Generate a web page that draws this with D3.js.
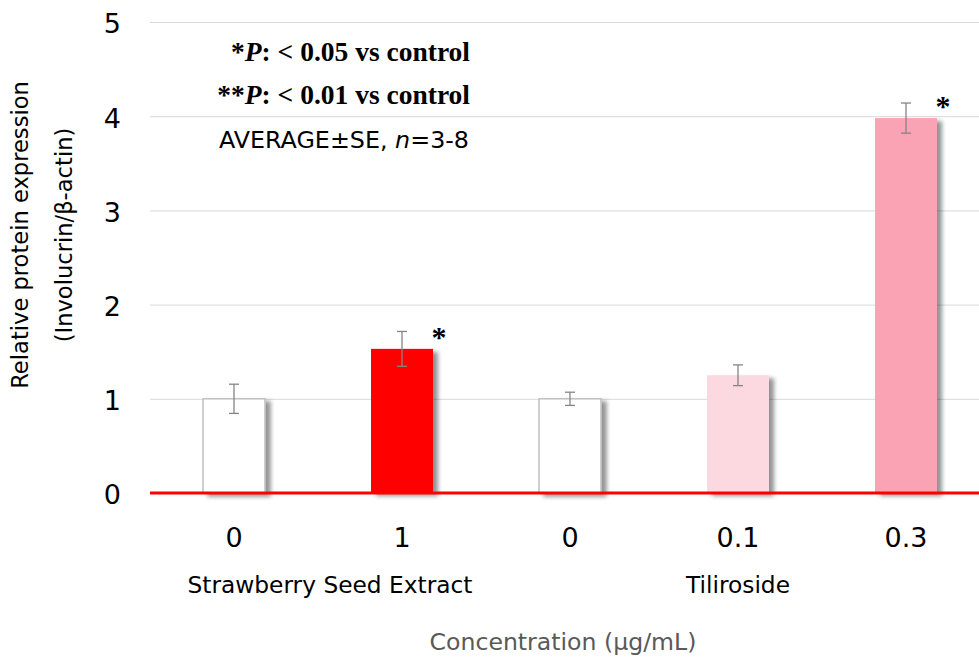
<!DOCTYPE html>
<html>
<head>
<meta charset="utf-8">
<script src="https://cdn.jsdelivr.net/npm/d3@7"></script>
<style>
  html, body { margin: 0; padding: 0; background: #fff; }
  svg { display: block; }
</style>
</head>
<body>
<svg id="chart" width="979" height="660"></svg>
<script>
// Involucrin / β-actin relative expression by treatment and concentration
const concentrations = ["0", "1", "0", "0.1", "0.3"];
const means = [1.00, 1.53, 1.00, 1.25, 3.98];
const errors = [0.155, 0.185, 0.07, 0.11, 0.16];
const significant = [false, true, false, false, true];
const barColors = ["#ffffff", "#ff0000", "#ffffff", "#fcd8e0", "#f9a3b4"];
const barStrokes = ["#bfbfbf", "none", "#bfbfbf", "none", "none"];
const groups = [
  { name: "Strawberry Seed Extract", from: 0, to: 1 },
  { name: "Tiliroside", from: 2, to: 4 }
];
const yTicks = [0, 1, 2, 3, 4, 5];

const svg = d3.select("#chart");
const W = 979;
const sans = "DejaVu Sans, Verdana, sans-serif";
const serif = "Liberation Serif, Times New Roman, serif";

const x = d3.scaleBand()
  .domain(d3.range(concentrations.length))
  .range([150, 990])
  .paddingInner(0.631)
  .paddingOuter(0.3155);

const y = d3.scaleLinear().domain([0, 5]).range([493, 22]);

// drop shadow for bars
const defs = svg.append("defs");
const f = defs.append("filter").attr("id", "barShadow")
  .attr("x", "-20%").attr("y", "-10%").attr("width", "150%").attr("height", "130%");
f.append("feDropShadow")
  .attr("dx", 5).attr("dy", 3).attr("stdDeviation", 2.2)
  .attr("flood-color", "#000").attr("flood-opacity", 0.42);

// horizontal gridlines
const grid = svg.append("g")
  .attr("transform", "translate(150,0)")
  .call(d3.axisLeft(y).tickValues(yTicks.filter(d => d > 0)).tickSize(-(W - 150)).tickFormat(""));
grid.select(".domain").remove();
grid.selectAll("line").attr("stroke", "#d9d9d9").attr("stroke-width", 1);

// y tick labels
const yAxis = svg.append("g")
  .attr("transform", "translate(121,0)")
  .call(d3.axisLeft(y).tickValues(yTicks).tickSize(0).tickPadding(0).tickFormat(d3.format("d")));
yAxis.select(".domain").remove();
yAxis.selectAll("text")
  .attr("fill", "#000")
  .attr("dy", "0.4em")
  .style("font-family", sans)
  .style("font-size", "27px");

// bars
svg.append("g").selectAll("rect")
  .data(means)
  .join("rect")
  .attr("x", (d, i) => x(i))
  .attr("y", d => y(d))
  .attr("width", x.bandwidth())
  .attr("height", d => y(0) - y(d))
  .attr("fill", (d, i) => barColors[i])
  .attr("stroke", (d, i) => barStrokes[i])
  .attr("stroke-width", 1.5)
  .attr("filter", "url(#barShadow)");

// baseline
svg.append("line")
  .attr("x1", 150).attr("x2", W)
  .attr("y1", y(0)).attr("y2", y(0))
  .attr("stroke", "#ff0000").attr("stroke-width", 3);

// error bars
const eb = svg.append("g").attr("stroke", "#858585").attr("stroke-width", 1.3);
means.forEach((m, i) => {
  const cx = x(i) + x.bandwidth() / 2;
  const top = y(m + errors[i]);
  const bot = y(m - errors[i]);
  eb.append("line").attr("x1", cx).attr("x2", cx).attr("y1", top).attr("y2", bot);
  eb.append("line").attr("x1", cx - 5).attr("x2", cx + 5).attr("y1", top).attr("y2", top);
  eb.append("line").attr("x1", cx - 5).attr("x2", cx + 5).attr("y1", bot).attr("y2", bot);
});

// significance marks
svg.append("g").selectAll("text")
  .data(means.map((m, i) => ({ m, i })).filter(d => significant[d.i]))
  .join("text")
  .attr("x", d => x(d.i) + x.bandwidth() + 6)
  .attr("y", d => y(d.m) - 2)
  .attr("text-anchor", "middle")
  .style("font-family", serif)
  .style("font-weight", "bold")
  .style("font-size", "30px")
  .text("*");

// x tick labels (concentration)
svg.append("g").selectAll("text")
  .data(concentrations)
  .join("text")
  .attr("x", (d, i) => x(i) + x.bandwidth() / 2)
  .attr("y", 547)
  .attr("text-anchor", "middle")
  .style("font-family", sans)
  .style("font-size", "27px")
  .text(d => d);

// group labels
svg.append("g").selectAll("text")
  .data(groups)
  .join("text")
  .attr("x", (g, k) => (x(g.from) + x(g.to) + x.bandwidth()) / 2 + (k === 0 ? 12 : 0))
  .attr("y", 593)
  .attr("text-anchor", "middle")
  .style("font-family", sans)
  .style("font-size", "23.3px")
  .text(g => g.name);

// x axis title
svg.append("text")
  .attr("x", 563).attr("y", 650)
  .attr("text-anchor", "middle")
  .attr("fill", "#595959")
  .style("font-family", sans)
  .style("font-size", "23.6px")
  .text("Concentration (μg/mL)");

// y axis title (two lines)
const yt = svg.append("g")
  .style("font-family", sans)
  .style("font-size", "22.6px")
  .attr("text-anchor", "middle");
yt.append("text")
  .attr("transform", "translate(28,235) rotate(-90)")
  .text("Relative protein expression");
yt.append("text")
  .attr("transform", "translate(72,235) rotate(-90)")
  .text("(Involucrin/β-actin)");

// significance legend and statistics note
const note = svg.append("g").attr("text-anchor", "end");
const sig1 = note.append("text").attr("x", 470).attr("y", 61)
  .style("font-family", serif)
  .style("font-weight", "bold").style("font-size", "27.5px");
sig1.append("tspan").text("*");
sig1.append("tspan").style("font-style", "italic").text("P");
sig1.append("tspan").text(": < 0.05 vs control");
const sig2 = note.append("text").attr("x", 470).attr("y", 104)
  .style("font-family", serif)
  .style("font-weight", "bold").style("font-size", "27.5px");
sig2.append("tspan").text("**");
sig2.append("tspan").style("font-style", "italic").text("P");
sig2.append("tspan").text(": < 0.01 vs control");
const avg = note.append("text").attr("x", 469).attr("y", 148)
  .style("font-family", sans)
  .style("font-size", "23.8px");
avg.append("tspan").text("AVERAGE±SE, ");
avg.append("tspan").style("font-style", "italic").text("n");
avg.append("tspan").text("=3-8");
</script>
</body>
</html>
